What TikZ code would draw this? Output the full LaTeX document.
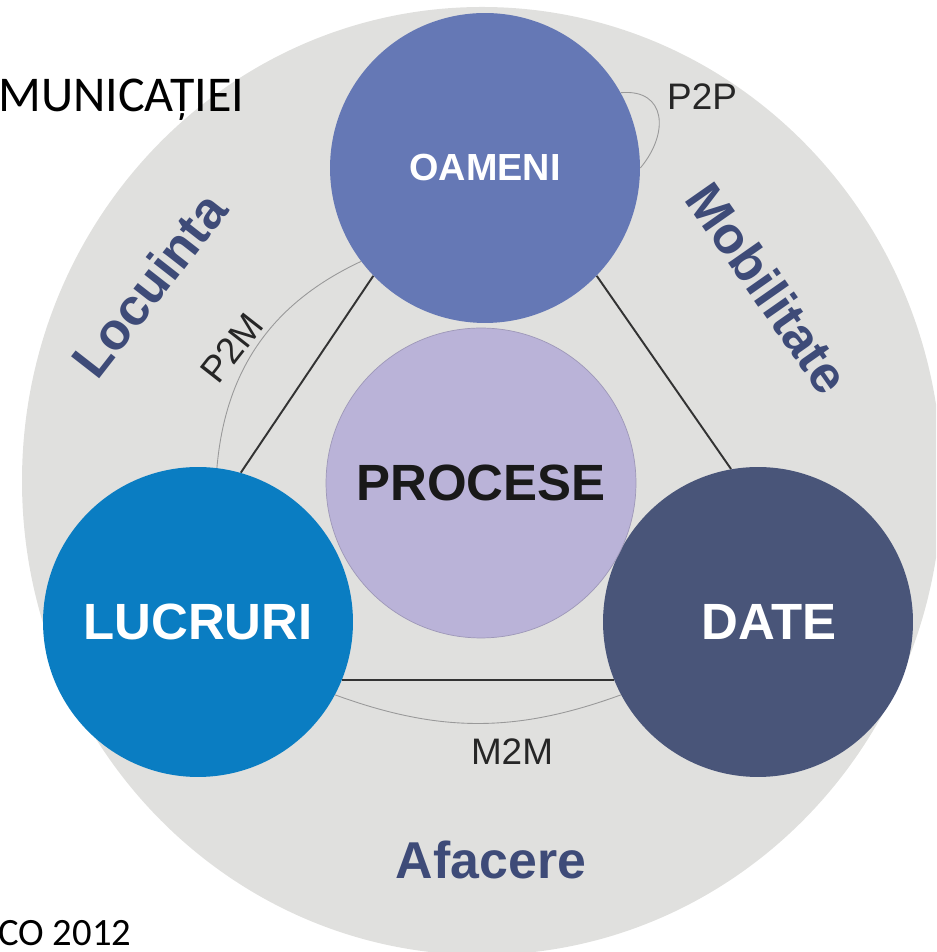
\documentclass[tikz,border=0pt]{standalone}
\usepackage{fontspec}
\setmainfont{Liberation Sans}
\newfontfamily\slidefont{Carlito}
\definecolor{ringgrey}{RGB}{224,224,222}
\definecolor{oamenicol}{RGB}{101,120,181}
\definecolor{lucruricol}{RGB}{10,125,194}
\definecolor{datecol}{RGB}{73,85,121}
\definecolor{procesecol}{RGB}{186,179,216}
\definecolor{ringtext}{RGB}{62,75,120}
\begin{document}
\begin{tikzpicture}[x=0.02cm,y=0.02cm,
  disc/.style={circle,minimum size=6.2cm,inner sep=0pt,text=white,font=\fontsize{29}{29}\selectfont\bfseries},
  ringlabel/.style={inner sep=0pt,text=ringtext,font=\fontsize{29.5}{29.5}\selectfont\bfseries},
  linklabel/.style={inner sep=0pt,text=black!85,font=\fontsize{21}{21}\selectfont},
  slidetext/.style={inner sep=0pt,anchor=base west,font=\slidefont\fontsize{28.5}{28.5}\selectfont},
  tri/.style={draw=black!80,line width=1.1pt},
  thin arc/.style={draw=black!40,line width=0.5pt}]
\useasboundingbox (0,0) rectangle (936,952);
\clip (0,0) rectangle (936,952);
\fill[ringgrey] (482,471) ellipse [x radius=460, y radius=474];

\node[disc,fill=oamenicol,font=\fontsize{21.5}{21.5}\selectfont\bfseries] (oameni) at (485,784) {OAMENI};
\node[disc,fill=lucruricol] (lucruri) at (198,330) {LUCRURI};
\node[disc,fill=datecol] (date) at (758,330) {\hspace*{0.45cm}DATE};
\node[disc,fill=procesecol,draw=procesecol!85!black,line width=0.4pt,text=black!90] (procese) at (481,469) {PROCESE};

\draw[tri] (oameni.224) -- (lucruri.74);
\draw[tri] (oameni.316) -- (date.100);
\draw[tri] (lucruri.-22) -- (date.202);

\draw[thin arc] (oameni.217) to[bend right=30] (lucruri.83);
\draw[thin arc] (lucruri.-28) to[bend right=20] (date.208);
\draw[thin arc] (oameni.29) to[out=5,in=50,looseness=1.5] (oameni.0);

\node[linklabel] (p2p) at (702,855) {P2P};
\node[linklabel,rotate=52] (p2m) at (232,604) {P2M};
\node[linklabel] (m2m) at (512,200) {M2M};

\node[ringlabel,rotate=52] (locuinta) at (149,667) {Locuinta};
\node[ringlabel,rotate=-55] (mobilitate) at (768,664) {Mobilitate};
\node[ringlabel] (afacere) at (491,92) {Afacere};

\node[slidetext] (titlu) at (-2,840) {MUNICAȚIEI};
\node[slidetext,font=\slidefont\fontsize{22}{22}\selectfont] (sursa) at (-2,7) {CO 2012};
\end{tikzpicture}
\end{document}
